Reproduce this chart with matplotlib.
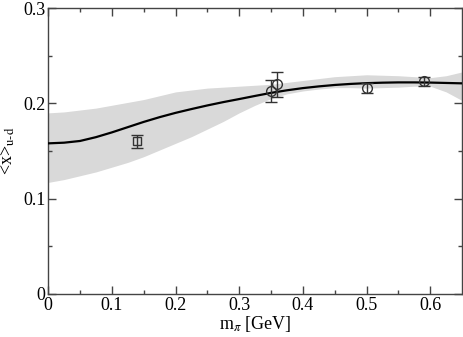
import numpy as np
import matplotlib
matplotlib.use('Agg')
import matplotlib.pyplot as plt

# ---------- data ----------
# lattice points (m_pi in GeV, <x>_{u-d}, error)
sq_x = [0.14]
sq_y = [0.160]
sq_err = [0.0065]

circ_x = [0.35, 0.36, 0.50, 0.59]
circ_y = [0.213, 0.220, 0.216, 0.223]
circ_err = [0.012, 0.013, 0.0055, 0.0045]

# chiral fit curve and its error band
fit_x = [0.0, 0.025, 0.05, 0.075, 0.1, 0.125, 0.15, 0.175, 0.2, 0.225, 0.25,
         0.275, 0.3, 0.325, 0.35, 0.375, 0.4, 0.425, 0.45, 0.475, 0.5,
         0.525, 0.55, 0.575, 0.6, 0.625, 0.65]
fit_y = [0.158, 0.1587, 0.1605, 0.1645, 0.1695, 0.175, 0.1805, 0.1855, 0.190, 0.194, 0.1978,
         0.2013, 0.2045, 0.2078, 0.211, 0.2137, 0.216, 0.2178, 0.2193, 0.2204, 0.2212,
         0.2217, 0.222, 0.222, 0.2218, 0.2214, 0.221]
band_hi = [0.190, 0.191, 0.193, 0.195, 0.198, 0.201, 0.204, 0.208, 0.212, 0.214, 0.216,
           0.217, 0.218, 0.219, 0.220, 0.222, 0.224, 0.226, 0.228, 0.229, 0.230,
           0.2295, 0.229, 0.228, 0.227, 0.229, 0.233]
band_lo = [0.117, 0.120, 0.124, 0.128, 0.133, 0.138, 0.144, 0.151, 0.158, 0.165, 0.173,
           0.181, 0.190, 0.198, 0.205, 0.210, 0.213, 0.215, 0.2165, 0.2165, 0.216,
           0.2165, 0.217, 0.218, 0.218, 0.212, 0.203]

# --------------- style ---------------
plt.rcParams['font.family'] = ['Liberation Serif', 'DejaVu Serif']
plt.rcParams['mathtext.fontset'] = 'stix'

fig = plt.figure(figsize=(4.63, 3.37), dpi=100)
ax = fig.add_axes([0.104, 0.128, 0.894, 0.848])

ax.fill_between(fit_x, band_lo, band_hi, color='#d9d9d9', linewidth=0, zorder=1)
ax.plot(fit_x, fit_y, color='black', linewidth=1.6, zorder=3)

ax.errorbar(sq_x, sq_y, yerr=sq_err, fmt='s', markersize=6, mfc='none', mec='#333333',
            mew=1.0, ecolor='#333333', elinewidth=1.0, capsize=4, capthick=1.0, zorder=4)
ax.errorbar(circ_x, circ_y, yerr=circ_err, fmt='o', markersize=7, mfc='none', mec='#333333',
            mew=1.0, ecolor='#333333', elinewidth=1.0, capsize=4, capthick=1.0, zorder=4)

# --- axes ---
ax.set_xlim(0, 0.65)
ax.set_ylim(0, 0.3)
ax.set_xticks([0, 0.1, 0.2, 0.3, 0.4, 0.5, 0.6])
ax.set_xticklabels(['0', '0.1', '0.2', '0.3', '0.4', '0.5', '0.6'])
ax.set_xticks(np.arange(0.05, 0.65, 0.1), minor=True)
ax.set_yticks([0, 0.1, 0.2, 0.3])
ax.set_yticklabels(['0', '0.1', '0.2', '0.3'])
ax.set_yticks([0.05, 0.15, 0.25], minor=True)

ax.tick_params(which='both', direction='in', top=True, right=True, labelsize=13,
               color='#444444', width=1.0)
ax.tick_params(which='major', length=6, pad=2)
ax.tick_params(which='minor', length=3)
for s in ax.spines.values():
    s.set_color('#444444')
    s.set_linewidth(1.0)

ax.set_xlabel(r'm$_\pi$ [GeV]', fontsize=13, labelpad=0)
ax.set_ylabel(r'<x>$_{\rm u\text{-}d}$', fontsize=13, labelpad=4)

plt.savefig('out.png', dpi=100, facecolor='white')
